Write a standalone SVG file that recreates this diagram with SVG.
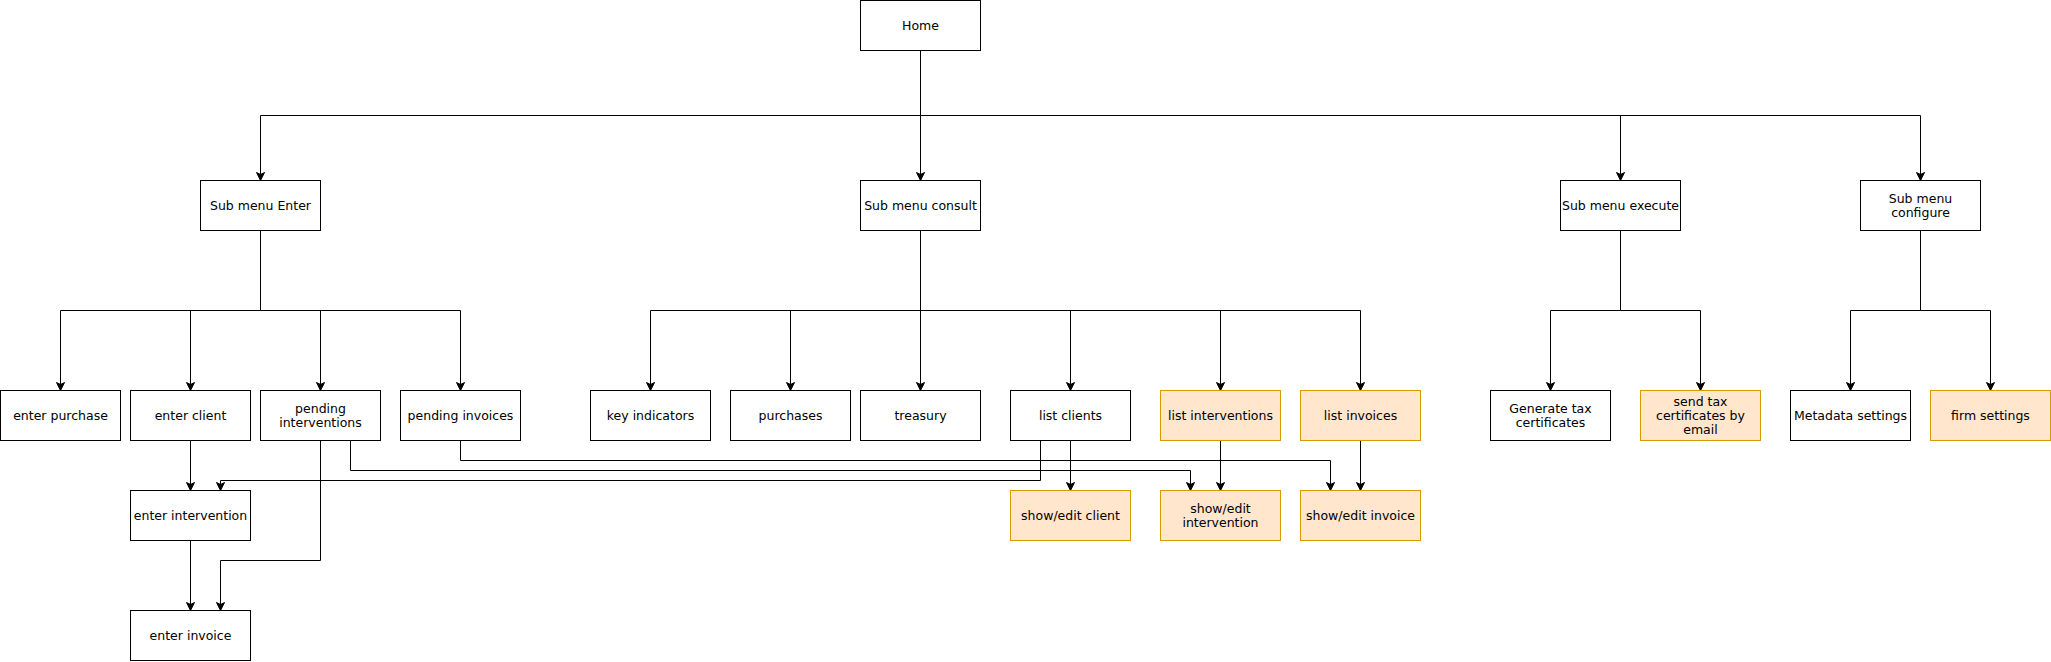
<svg xmlns="http://www.w3.org/2000/svg" width="2051" height="662" viewBox="0 0 2051 662">
<style>
.n rect{fill:#ffffff;stroke:#000000;stroke-width:1}
.o rect{fill:#ffe6cc;stroke:#d79b00;stroke-width:1}
text{font-family:"DejaVu Sans","Liberation Sans",sans-serif;font-size:12.5px;fill:#000000;text-anchor:middle}
#edges path{fill:none;stroke:#000000;stroke-width:1;marker-end:url(#arr)}
</style>
<defs>
<marker id="arr" markerUnits="userSpaceOnUse" markerWidth="12" markerHeight="12" viewBox="-10 -6 12 12" refX="0" refY="0" orient="auto" overflow="visible">
<path d="M-8,-4 L0,0 L-8,4 L-6,0 Z" fill="#000000" stroke="#000000" stroke-width="1"/>
</marker>
</defs>
<rect width="2051" height="662" fill="#ffffff"/>
<g id="edges">
<path d="M920.5,50.5 V180.5"/>
<path d="M920.5,50.5 V115.5 H260.5 V180.5"/>
<path d="M920.5,50.5 V115.5 H1620.5 V180.5"/>
<path d="M920.5,50.5 V115.5 H1920.5 V180.5"/>
<path d="M260.5,230.5 V310.5 H60.5 V390.5"/>
<path d="M260.5,230.5 V310.5 H190.5 V390.5"/>
<path d="M260.5,230.5 V310.5 H320.5 V390.5"/>
<path d="M260.5,230.5 V310.5 H460.5 V390.5"/>
<path d="M920.5,230.5 V310.5 H650.5 V390.5"/>
<path d="M920.5,230.5 V310.5 H790.5 V390.5"/>
<path d="M920.5,230.5 V390.5"/>
<path d="M920.5,230.5 V310.5 H1070.5 V390.5"/>
<path d="M920.5,230.5 V310.5 H1220.5 V390.5"/>
<path d="M920.5,230.5 V310.5 H1360.5 V390.5"/>
<path d="M1620.5,230.5 V310.5 H1550.5 V390.5"/>
<path d="M1620.5,230.5 V310.5 H1700.5 V390.5"/>
<path d="M1920.5,230.5 V310.5 H1850.5 V390.5"/>
<path d="M1920.5,230.5 V310.5 H1990.5 V390.5"/>
<path d="M190.5,440.5 V490.5"/>
<path d="M190.5,540.5 V610.5"/>
<path d="M320.5,440.5 V560.5 H220.5 V610.5"/>
<path d="M350.5,440.5 V470.5 H1190.5 V490.5"/>
<path d="M460.5,440.5 V460.5 H1330.5 V490.5"/>
<path d="M1040.5,440.5 V480.5 H220.5 V490.5"/>
<path d="M1070.5,440.5 V490.5"/>
<path d="M1220.5,440.5 V490.5"/>
<path d="M1360.5,440.5 V490.5"/>
</g>
<g id="home" class="n"><rect x="860.5" y="0.5" width="120" height="50"/><text x="920.5" y="30">Home</text></g>
<g id="sub-enter" class="n"><rect x="200.5" y="180.5" width="120" height="50"/><text x="260.5" y="210">Sub menu Enter</text></g>
<g id="sub-consult" class="n"><rect x="860.5" y="180.5" width="120" height="50"/><text x="920.5" y="210">Sub menu consult</text></g>
<g id="sub-execute" class="n"><rect x="1560.5" y="180.5" width="120" height="50"/><text x="1620.5" y="210">Sub menu execute</text></g>
<g id="sub-configure" class="n"><rect x="1860.5" y="180.5" width="120" height="50"/><text x="1920.5" y="202.8">Sub menu</text><text x="1920.5" y="217.2">configure</text></g>
<g id="enter-purchase" class="n"><rect x="0.5" y="390.5" width="120" height="50"/><text x="60.5" y="420">enter purchase</text></g>
<g id="enter-client" class="n"><rect x="130.5" y="390.5" width="120" height="50"/><text x="190.5" y="420">enter client</text></g>
<g id="pending-interventions" class="n"><rect x="260.5" y="390.5" width="120" height="50"/><text x="320.5" y="412.8">pending</text><text x="320.5" y="427.2">interventions</text></g>
<g id="pending-invoices" class="n"><rect x="400.5" y="390.5" width="120" height="50"/><text x="460.5" y="420">pending invoices</text></g>
<g id="key-indicators" class="n"><rect x="590.5" y="390.5" width="120" height="50"/><text x="650.5" y="420">key indicators</text></g>
<g id="purchases" class="n"><rect x="730.5" y="390.5" width="120" height="50"/><text x="790.5" y="420">purchases</text></g>
<g id="treasury" class="n"><rect x="860.5" y="390.5" width="120" height="50"/><text x="920.5" y="420">treasury</text></g>
<g id="list-clients" class="n"><rect x="1010.5" y="390.5" width="120" height="50"/><text x="1070.5" y="420">list clients</text></g>
<g id="list-interventions" class="o"><rect x="1160.5" y="390.5" width="120" height="50"/><text x="1220.5" y="420">list interventions</text></g>
<g id="list-invoices" class="o"><rect x="1300.5" y="390.5" width="120" height="50"/><text x="1360.5" y="420">list invoices</text></g>
<g id="generate-tax" class="n"><rect x="1490.5" y="390.5" width="120" height="50"/><text x="1550.5" y="412.8">Generate tax</text><text x="1550.5" y="427.2">certificates</text></g>
<g id="send-tax" class="o"><rect x="1640.5" y="390.5" width="120" height="50"/><text x="1700.5" y="405.6">send tax</text><text x="1700.5" y="420">certificates by</text><text x="1700.5" y="434.4">email</text></g>
<g id="metadata-settings" class="n"><rect x="1790.5" y="390.5" width="120" height="50"/><text x="1850.5" y="420">Metadata settings</text></g>
<g id="firm-settings" class="o"><rect x="1930.5" y="390.5" width="120" height="50"/><text x="1990.5" y="420">firm settings</text></g>
<g id="enter-intervention" class="n"><rect x="130.5" y="490.5" width="120" height="50"/><text x="190.5" y="520">enter intervention</text></g>
<g id="show-edit-client" class="o"><rect x="1010.5" y="490.5" width="120" height="50"/><text x="1070.5" y="520">show/edit client</text></g>
<g id="show-edit-intervention" class="o"><rect x="1160.5" y="490.5" width="120" height="50"/><text x="1220.5" y="512.8">show/edit</text><text x="1220.5" y="527.2">intervention</text></g>
<g id="show-edit-invoice" class="o"><rect x="1300.5" y="490.5" width="120" height="50"/><text x="1360.5" y="520">show/edit invoice</text></g>
<g id="enter-invoice" class="n"><rect x="130.5" y="610.5" width="120" height="50"/><text x="190.5" y="640">enter invoice</text></g>
</svg>
